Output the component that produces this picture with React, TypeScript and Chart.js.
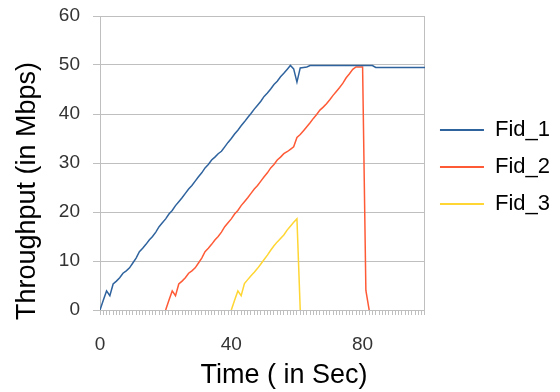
import React, { useEffect, useRef } from "react";
import { Chart, registerables } from "chart.js";

Chart.register(...registerables);

// ---- Data (time in seconds, throughput in Mbps) ----
const seriesNames = ["Fid_1", "Fid_2", "Fid_3"];
const seriesColors = ["#2F639E", "#FF5A36", "#FFD633"];

const fid1Start = 0;
const fid1Values = [
  0, 2.0, 3.9, 2.9, 5.3, 5.9, 6.6, 7.5, 8.0, 8.6,
  9.6, 10.6, 11.9, 12.6, 13.4, 14.3, 15.0, 15.9, 17.0, 17.8,
  18.6, 19.6, 20.3, 21.3, 22.1, 22.9, 23.8, 24.7, 25.4, 26.3,
  27.2, 28.0, 29.0, 29.7, 30.6, 31.2, 31.9, 32.4, 33.3, 34.2,
  35.0, 35.9, 36.7, 37.6, 38.4, 39.3, 40.1, 41.0, 41.8, 42.6,
  43.6, 44.3, 45.1, 46.0, 46.7, 47.6, 48.3, 49.1, 49.9, 49.2,
  46.5, 49.4, 49.5, 49.6, 49.9, 49.9, 49.9, 49.9, 49.9, 49.9,
  49.9, 49.9, 49.9, 49.9, 49.9, 49.9, 49.9, 49.9, 49.9, 49.9,
  49.9, 49.9, 49.9, 49.9, 49.5, 49.5, 49.5, 49.5, 49.5, 49.5,
  49.5, 49.5, 49.5, 49.5, 49.5, 49.5, 49.5, 49.5, 49.5, 49.5,
];

const fid2Start = 20;
const fid2Values = [
  0, 2.0, 3.9, 2.9, 5.3, 5.9, 6.6, 7.5, 8.0, 8.6,
  9.6, 10.6, 11.9, 12.6, 13.4, 14.3, 15.0, 15.9, 17.0, 17.8,
  18.6, 19.6, 20.3, 21.3, 22.1, 22.9, 23.8, 24.7, 25.4, 26.3,
  27.2, 28.0, 29.0, 29.7, 30.6, 31.2, 31.9, 32.3, 32.8, 33.3,
  35.2, 35.8, 36.6, 37.4, 38.2, 39.1, 39.9, 40.8, 41.4, 42.1,
  42.9, 43.8, 44.6, 45.4, 46.3, 47.4, 48.2, 49.1, 49.6, 49.6,
  49.6, 4.0, 0,
];

const fid3Start = 40;
const fid3Values = [
  0, 2.0, 3.9, 2.9, 5.4, 6.2, 7.0, 7.7, 8.5, 9.4,
  10.3, 11.2, 12.2, 13.1, 13.9, 14.6, 15.3, 16.3, 17.1, 17.9,
  18.6, 0,
];

const xMin = 0;
const xMax = 99;
const xLabelStep = 40;
const yMin = 0;
const yMax = 60;
const yStep = 10;

const xTitle = "Time ( in Sec)";
const yTitle = "Throughput (in Mbps)";

// ---- Styling ----
const FONT = "'Liberation Sans', Arial, Helvetica, sans-serif";
const GRID = "#BFBFBF";

function toPoints(start: number, values: number[]) {
  return values.map((v, i) => ({ x: start + i, y: v }));
}

const axisTitlePlugin = {
  id: "axisTitles",
  afterDraw(chart: any) {
    const ctx = chart.ctx;
    ctx.save();
    ctx.fillStyle = "#000";
    ctx.font = `27px ${FONT}`;
    ctx.textAlign = "center";
    ctx.textBaseline = "alphabetic";
    ctx.fillText(xTitle, 284, 383);
    ctx.translate(35, 191);
    ctx.rotate(-Math.PI / 2);
    ctx.fillText(yTitle, 0, 0);
    ctx.restore();
  },
};

export default function App() {
  const canvasRef = useRef<HTMLCanvasElement | null>(null);

  useEffect(() => {
    if (!canvasRef.current) return;
    const starts = [fid1Start, fid2Start, fid3Start];
    const values = [fid1Values, fid2Values, fid3Values];
    const chart = new Chart(canvasRef.current, {
      type: "line",
      data: {
        datasets: seriesNames.map((name, i) => ({
          label: name,
          data: toPoints(starts[i], values[i]),
          borderColor: seriesColors[i],
          backgroundColor: seriesColors[i],
          borderWidth: 1.5,
          pointRadius: 0,
          tension: 0,
          fill: false,
        })),
      },
      options: {
        animation: false,
        responsive: false,
        layout: { padding: { top: 16, right: 0, bottom: 0, left: 0 } },
        plugins: {
          tooltip: { enabled: false },
          legend: {
            position: "right",
            align: "center",
            fullSize: false,
            title: {
              display: true,
              text: "",
              font: { size: 1 },
              padding: { top: 0, bottom: 7 },
            },
            labels: {
              boxWidth: 44,
              boxHeight: 2,
              padding: 15,
              color: "#000",
              font: { family: FONT, size: 22 },
              generateLabels: (c: any) =>
                Chart.defaults.plugins.legend.labels
                  .generateLabels(c)
                  .map((l: any) => ({ ...l, lineWidth: 0, fillStyle: l.strokeStyle })),
            },
          },
        },
        scales: {
          x: {
            type: "linear",
            min: xMin,
            max: xMax,
            afterFit: (s: any) => {
              s.height = 82;
            },
            ticks: {
              stepSize: 1,
              autoSkip: false,
              maxTicksLimit: 1000,
              maxRotation: 0,
              color: "#333",
              padding: 18,
              font: { family: FONT, size: 19 },
              callback: (v: any) => (Number(v) % xLabelStep === 0 ? String(v) : ""),
            },
            grid: {
              drawOnChartArea: true,
              color: (ctx: any) =>
                ctx.tick && ctx.tick.value === xMax ? GRID : "rgba(0,0,0,0)",
              tickColor: GRID,
              tickLength: 5,
              lineWidth: 1,
            },
            border: { color: GRID },
          },
          y: {
            min: yMin,
            max: yMax,
            afterFit: (s: any) => {
              s.width = 100;
              s.paddingTop = 0;
              s.paddingBottom = 0;
            },
            ticks: {
              stepSize: yStep,
              color: "#333",
              padding: 13,
              font: { family: FONT, size: 19 },
            },
            grid: { color: GRID, tickLength: 7, lineWidth: 1 },
            border: { color: GRID },
          },
        },
      },
      plugins: [axisTitlePlugin],
    } as any);
    return () => chart.destroy();
  }, []);

  return (
    <div style={{ position: "fixed", left: 0, top: 0, width: 560, height: 392, background: "#fff" }}>
      <canvas ref={canvasRef} width={560} height={392} style={{ display: "block" }} />
    </div>
  );
}
